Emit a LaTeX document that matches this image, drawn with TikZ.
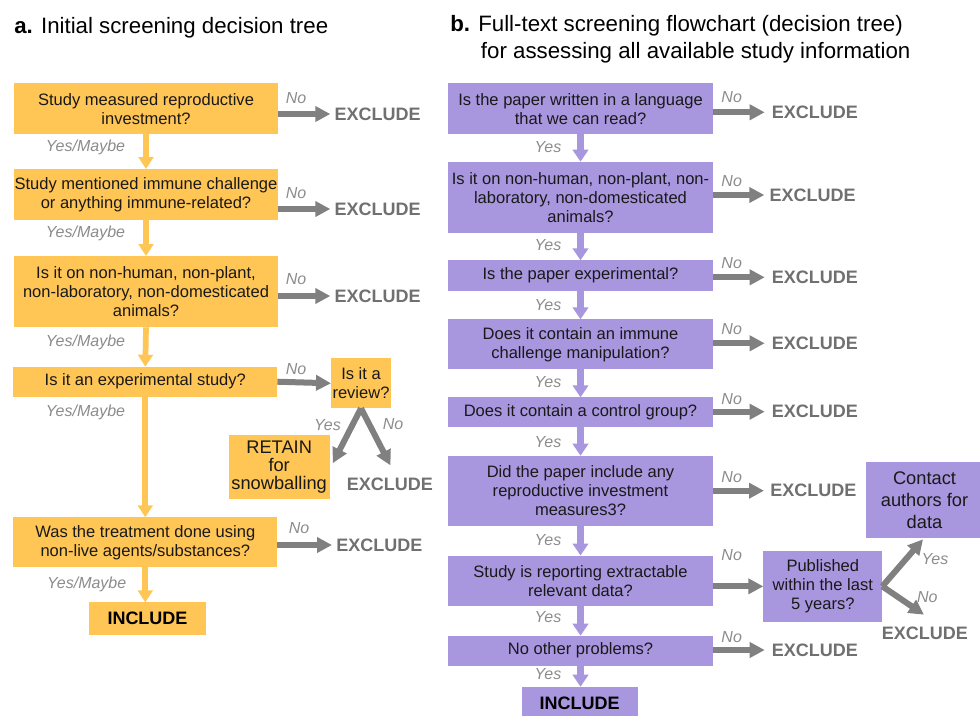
\documentclass[tikz,border=0pt]{standalone}
\usepackage{fontspec}
\setmainfont{Liberation Sans}
\usetikzlibrary{arrows.meta,calc}
\definecolor{org}{HTML}{FFC555}
\definecolor{pur}{HTML}{A896DF}
\definecolor{arrg}{HTML}{808080}
\definecolor{exg}{HTML}{707070}
\definecolor{lblg}{HTML}{8C8C8C}
\begin{document}
\begin{tikzpicture}[x=0.75pt,y=-0.75pt,
 box/.style={inner sep=0pt, outer sep=0pt, anchor=north west, align=center, font=\fontsize{12.4}{14.3}\selectfont, text=black!90},
 obox/.style={box, fill=org},
 pbox/.style={box, fill=pur},
 bigtxt/.style={font=\fontsize{13.7}{15}\selectfont},
 excl/.style={anchor=west, inner sep=0pt, font=\fontsize{13.5}{16}\selectfont\bfseries, text=exg},
 lbl/.style={inner sep=0pt, font=\fontsize{12}{14}\selectfont\itshape, text=lblg},
 garrow/.style={draw=arrg, line width=4.5pt, -{Triangle[length=11.25pt,width=11.25pt]}},
 oarrow/.style={draw=org, line width=4.3pt, -{Triangle[length=9pt,width=11pt]}},
 parrow/.style={draw=pur, line width=4.6pt, -{Triangle[length=9pt,width=11.5pt]}},
 ttl/.style={anchor=base west, inner sep=0pt, font=\fontsize{16.7}{20}\selectfont}
]
\useasboundingbox (0,0) rectangle (980,715);
\clip (0,0) rectangle (980,715);
\fill[white] (0,0) rectangle (980,715);

% ---------- titles
\node[ttl] (ta) at (14,33.3) {\textbf{a.} Initial screening decision tree};
\node[ttl] (tb1) at (450,31.5) {\textbf{b.} Full-text screening flowchart (decision tree)};
\node[ttl] (tb2) at (480.7,58.5) {for assessing all available study information};

% ---------- panel a boxes
\node[obox, minimum width=198pt, minimum height=38.25pt] (a1) at (14,83.3) {Study measured reproductive\\investment?};
\node[obox, minimum width=198pt, minimum height=38.25pt] (a2) at (14,169) {Study mentioned immune challenge\\or anything immune-related?};
\node[obox, minimum width=198pt, minimum height=53.5pt] (a3) at (14,256) {Is it on non-human, non-plant,\\non-laboratory, non-domesticated\\animals?};
\node[obox, minimum width=198pt, minimum height=22.5pt] (a4) at (13.3,366.7) {Is it an experimental study?};
\node[obox, minimum width=45pt, minimum height=37.5pt] (rev) at (331,358.3) {Is it a\\review?};
\node[obox, bigtxt, minimum width=76pt, minimum height=48.2pt, font=\fontsize{13.7}{13.6}\selectfont] (ret) at (228.5,435) {RETAIN\\for\\snowballing};
\node[obox, minimum width=198pt, minimum height=37.5pt] (a5) at (13.3,517.3) {Was the treatment done using\\non-live agents/substances?};
\node[obox, minimum width=87.3pt, minimum height=24.5pt, font=\fontsize{13.5}{16}\selectfont\bfseries, text=black] (ainc) at (89.3,602.3) {INCLUDE};

% excludes panel a
\node[excl] (ea1) at (334.3,114) {EXCLUDE};
\node[excl] (ea2) at (334.3,209) {EXCLUDE};
\node[excl] (ea3) at (334.3,296) {EXCLUDE};
\node[excl] (ea4) at (346.7,484) {EXCLUDE};
\node[excl] (ea5) at (336,545) {EXCLUDE};

% arrows panel a
\draw[oarrow] (a1.south) -- (a2.north);
\draw[oarrow] (a2.south) -- (a3.north);
\draw[oarrow] (a3.south) -- (a4.north);
\draw[oarrow] (a4.south) -- (a5.north -| a4.south);
\draw[oarrow] (a5.south) -- (a5.south |- ainc.north);
\draw[garrow] (a1.east |- ea1.west) -- ($(ea1.west)+(-4,0)$);
\draw[garrow] (a2.east |- ea2.west) -- ($(ea2.west)+(-4,0)$);
\draw[garrow] (a3.east |- ea3.west) -- ($(ea3.west)+(-4,0)$);
\draw[garrow] (a4.east) -- (rev.west);
\draw[garrow] (a5.east |- ea5.west) -- ($(ea5.west)+(-4,0)$);
\draw[garrow] (rev.south) -- ($(ret.east)+(3,-4)$);
\draw[garrow] (rev.south) -- ($(ea4.north)+(0.5,-12)$);

% labels panel a
\node[lbl] (na1) at (296,98.3) {No};
\node[lbl] (na2) at (296,192.7) {No};
\node[lbl] (na3) at (296,279.3) {No};
\node[lbl] (na4) at (296,369.3) {No};
\node[lbl] (na5) at (299,528.3) {No};
\node[lbl] (ya1) at (85.5,147.7) {Yes/Maybe};
\node[lbl] (ya2) at (85.5,233.3) {Yes/Maybe};
\node[lbl] (ya3) at (85.5,342.7) {Yes/Maybe};
\node[lbl] (ya4) at (85.5,412.7) {Yes/Maybe};
\node[lbl] (ya5) at (86.7,584) {Yes/Maybe};
\node[lbl] (yrev) at (327.5,425) {Yes};
\node[lbl] (nrev) at (393,424.3) {No};

% ---------- panel b boxes
\node[pbox, minimum width=198.75pt, minimum height=38pt] (b1) at (448,83.3) {Is the paper written in a language\\that we can read?};
\node[pbox, minimum width=198.75pt, minimum height=53.25pt] (b2) at (448,161.7) {Is it on non-human, non-plant, non-\\laboratory, non-domesticated\\animals?};
\node[pbox, minimum width=198.75pt, minimum height=22.8pt] (b3) at (448,260.3) {Is the paper experimental?};
\node[pbox, minimum width=198.75pt, minimum height=37.5pt] (b4) at (448,319.3) {Does it contain an immune\\challenge manipulation?};
\node[pbox, minimum width=198.75pt, minimum height=22.5pt] (b5) at (448,397.3) {Does it contain a control group?};
\node[pbox, minimum width=198.75pt, minimum height=52.9pt] (b6) at (448,455.7) {Did the paper include any\\reproductive investment\\measures3?};
\node[pbox, minimum width=198.75pt, minimum height=37.7pt] (b7) at (448,555.5) {Study is reporting extractable\\relevant data?};
\node[pbox, minimum width=198.75pt, minimum height=22.5pt] (b8) at (448,635.7) {No other problems?};
\node[pbox, minimum width=87pt, minimum height=25.2pt, font=\fontsize{13.5}{16}\selectfont\bfseries, text=black] (binc) at (521.6,686.7) {INCLUDE};
\node[pbox, minimum width=89.25pt, minimum height=53pt] (pub) at (763.3,551) {Published\\within the last\\5 years?};
\node[pbox, minimum width=87.75pt, minimum height=57.5pt, font=\fontsize{13.7}{16.5}\selectfont] (con) at (866,461.7) {Contact\\authors for\\data};

% excludes panel b
\node[excl] (eb1) at (771.7,112.3) {EXCLUDE};
\node[excl] (eb2) at (769.3,195) {EXCLUDE};
\node[excl] (eb3) at (771.7,277.3) {EXCLUDE};
\node[excl] (eb4) at (771.7,343.3) {EXCLUDE};
\node[excl] (eb5) at (771.7,411.7) {EXCLUDE};
\node[excl] (eb6) at (770,490.7) {EXCLUDE};
\node[excl] (eb7) at (881.7,633.3) {EXCLUDE};
\node[excl] (eb8) at (771.7,650) {EXCLUDE};

% arrows panel b
\draw[parrow] (b1.south) -- (b2.north);
\draw[parrow] (b2.south) -- (b3.north);
\draw[parrow] (b3.south) -- (b4.north);
\draw[parrow] (b4.south) -- (b5.north);
\draw[parrow] (b5.south) -- (b6.north);
\draw[parrow] (b6.south) -- (b7.north);
\draw[parrow] (b7.south) -- (b8.north);
\draw[parrow] (b8.south) -- (b8.south |- binc.north);
\draw[garrow] (b1.east |- eb1.west) -- ($(eb1.west)+(-7,0)$);
\draw[garrow] (b2.east |- eb2.west) -- ($(eb2.west)+(-5,0)$);
\draw[garrow] (b3.east |- eb3.west) -- ($(eb3.west)+(-7,0)$);
\draw[garrow] (b4.east |- eb4.west) -- ($(eb4.west)+(-7,0)$);
\draw[garrow] (b5.east |- eb5.west) -- ($(eb5.west)+(-7,0)$);
\draw[garrow] (b6.east |- eb6.west) -- ($(eb6.west)+(-6,0)$);
\draw[garrow] (b7.east |- pub.west) -- (pub.west);
\draw[garrow] (b8.east |- eb8.west) -- ($(eb8.west)+(-7,0)$);
\draw[garrow] (pub.east) -- ($(con.south west)+(57,1)$);
\draw[garrow] (pub.east) -- ($(eb7.north)+(-1,-12)$);

% labels panel b
\foreach \yy/\nm in {96.7/nb1,180.7/nb2,263.3/nb3,329/nb4,399.3/nb5,476.7/nb6,555/nb7,636.7/nb8}
  \node[lbl] (\nm) at (731.7,\yy) {No};
\foreach \yy/\nm in {146.7/yb1,245.3/yb2,305/yb3,381.7/yb4,441.7/yb5,540/yb6,617.3/yb7,674/yb8}
  \node[lbl] (\nm) at (548,\yy) {Yes};
\node[lbl] (ypub) at (935,559.3) {Yes};
\node[lbl] (npub) at (927.3,596.7) {No};
\end{tikzpicture}
\end{document}
